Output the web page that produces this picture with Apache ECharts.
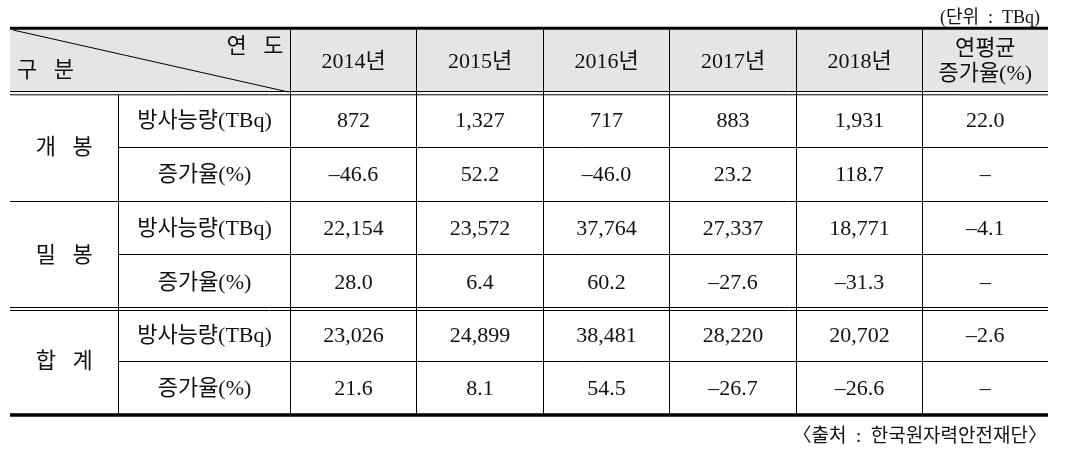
<!DOCTYPE html>
<html>
<head>
<meta charset="utf-8">
<script src="https://cdn.jsdelivr.net/npm/echarts@6/dist/echarts.min.js"></script>
<style>
  html, body { margin: 0; padding: 0; background: #fff; }
  #chart { width: 1072px; height: 454px; }
</style>
</head>
<body>
<div id="chart"></div>
<script>
  // table data
  var years = ['2014년', '2015년', '2016년', '2017년', '2018년']
  var cagrHeader = '연평균\n증가율(%)'
  var groups = ['개   봉', '밀   봉', '합   계']
  var metrics = ['방사능량(TBq)', '증가율(%)']

  var openActivity = [872, 1327, 717, 883, 1931]
  var openRate = [-46.6, 52.2, -46.0, 23.2, 118.7]
  var openCagr = 22.0

  var sealedActivity = [22154, 23572, 37764, 27337, 18771]
  var sealedRate = [28.0, 6.4, 60.2, -27.6, -31.3]
  var sealedCagr = -4.1

  var totalActivity = [23026, 24899, 38481, 28220, 20702]
  var totalRate = [21.6, 8.1, 54.5, -26.7, -26.6]
  var totalCagr = -2.6

  var unitText = '(단위  :  TBq)'
  var sourceText = '〈출처  :  한국원자력안전재단〉'

  // layout (pixels, grid maps 1:1 onto the canvas)
  var colEdges = [10, 118.5, 290.5, 416.5, 543.5, 669.5, 796.5, 922.5, 1048]
  var rowEdges = [29, 93, 147.5, 201.5, 254.5, 309, 361.5, 414]
  var FAMILY = "'Liberation Serif', 'Noto Sans CJK KR', serif"
  var FONT = '22px ' + FAMILY

  function fmtCount(v) {
    return v.toLocaleString('en-US')
  }
  function fmtRate(v) {
    return v.toFixed(1).replace('-', '–')
  }

  // cells: [col0, col1, row0, row1] + text
  var cells = []
  function addCell(c0, c1, r0, r1, text) {
    cells.push({ value: [c0, c1, r0, r1], text: text })
  }
  years.forEach(function(y, i) {
    addCell(i + 2, i + 3, 0, 1, y)
  })
  addCell(7, 8, 0, 1, cagrHeader)

  var body = [
    [openActivity, openRate, openCagr],
    [sealedActivity, sealedRate, sealedCagr],
    [totalActivity, totalRate, totalCagr]
  ]
  body.forEach(function(g, gi) {
    var r = 1 + gi * 2
    addCell(0, 1, r, r + 2, groups[gi])
    addCell(1, 2, r, r + 1, metrics[0])
    addCell(1, 2, r + 1, r + 2, metrics[1])
    g[0].forEach(function(v, i) { addCell(i + 2, i + 3, r, r + 1, fmtCount(v)) })
    g[1].forEach(function(v, i) { addCell(i + 2, i + 3, r + 1, r + 2, fmtRate(v)) })
    addCell(7, 8, r, r + 1, fmtRate(g[2]))
    addCell(7, 8, r + 1, r + 2, '–')
  })

  // rules: [x0, y0, x1, y1, width]
  var L = colEdges[0], R = colEdges[colEdges.length - 1]
  var rules = []
  rules.push([L, 28.3, R, 28.3, 3])
  rules.push([L, 91.5, R, 91.5, 1])
  rules.push([L, 94.8, R, 94.8, 1])
  rules.push([L, 201.5, R, 201.5, 1])
  rules.push([L, 307.5, R, 307.5, 1])
  rules.push([L, 310.5, R, 310.5, 1])
  rules.push([L, 415, R, 415, 3.5]);
  [147.5, 254.5, 361.5].forEach(function(y) {
    rules.push([colEdges[1], y, R, y, 1])
  })
  rules.push([colEdges[1], 95, colEdges[1], 413.5, 1])
  for (var c = 2; c < colEdges.length - 1; c++) {
    rules.push([colEdges[c], 30, colEdges[c], 413.5, 1])
  }
  // diagonal in the corner header cell
  rules.push([L + 3, 30, colEdges[2] - 2, 92, 1])

  var chart = echarts.init(document.getElementById('chart'))

  chart.setOption({
    backgroundColor: '#fff',
    animation: false,
    title: [{
      text: unitText,
      right: 27,
      top: 4,
      textStyle: { fontSize: 18, fontWeight: 'normal', color: '#111', fontFamily: FAMILY }
    }, {
      text: sourceText,
      right: 20,
      top: 423,
      textStyle: { fontSize: 19, fontWeight: 'normal', color: '#111', fontFamily: FAMILY }
    }],
    grid: { left: 0, right: 0, top: 0, bottom: 0 },
    xAxis: { type: 'value', min: 0, max: 1072, show: false },
    yAxis: { type: 'value', min: 0, max: 454, inverse: true, show: false },
    series: [{
      // header background
      type: 'custom',
      coordinateSystem: 'cartesian2d',
      data: [[L, 30, R, 91]],
      renderItem: function(params, api) {
        var p0 = api.coord([api.value(0), api.value(1)])
        var p1 = api.coord([api.value(2), api.value(3)])
        return {
          type: 'rect',
          shape: { x: p0[0], y: p0[1], width: p1[0] - p0[0], height: p1[1] - p0[1] },
          style: { fill: '#e5e5e5' }
        }
      },
      silent: true,
      z: 1
    }, {
      type: 'custom',
      coordinateSystem: 'cartesian2d',
      data: rules,
      renderItem: function(params, api) {
        var p0 = api.coord([api.value(0), api.value(1)])
        var p1 = api.coord([api.value(2), api.value(3)])
        return {
          type: 'line',
          shape: { x1: p0[0], y1: p0[1], x2: p1[0], y2: p1[1] },
          style: { stroke: '#000', lineWidth: api.value(4) }
        }
      },
      silent: true,
      z: 2
    }, {
      type: 'custom',
      coordinateSystem: 'cartesian2d',
      data: cells,
      renderItem: function(params, api) {
        var p0 = api.coord([colEdges[api.value(0)], rowEdges[api.value(2)]])
        var p1 = api.coord([colEdges[api.value(1)], rowEdges[api.value(3)]])
        return {
          type: 'text',
          x: (p0[0] + p1[0]) / 2,
          y: (p0[1] + p1[1]) / 2 + 1,
          style: {
            text: cells[params.dataIndex].text,
            align: 'center',
            verticalAlign: 'middle',
            font: FONT,
            lineHeight: 25,
            fill: '#111'
          }
        }
      },
      silent: true,
      z: 3
    }],
    graphic: [{
      type: 'text',
      right: 1072 - colEdges[2] + 7,
      top: 36,
      style: { text: '연   도', font: FONT, fill: '#111' },
      z: 10
    }, {
      type: 'text',
      left: colEdges[0] + 7,
      top: 60,
      style: { text: '구   분', font: FONT, fill: '#111' },
      z: 10
    }]
  })
</script>
</body>
</html>
